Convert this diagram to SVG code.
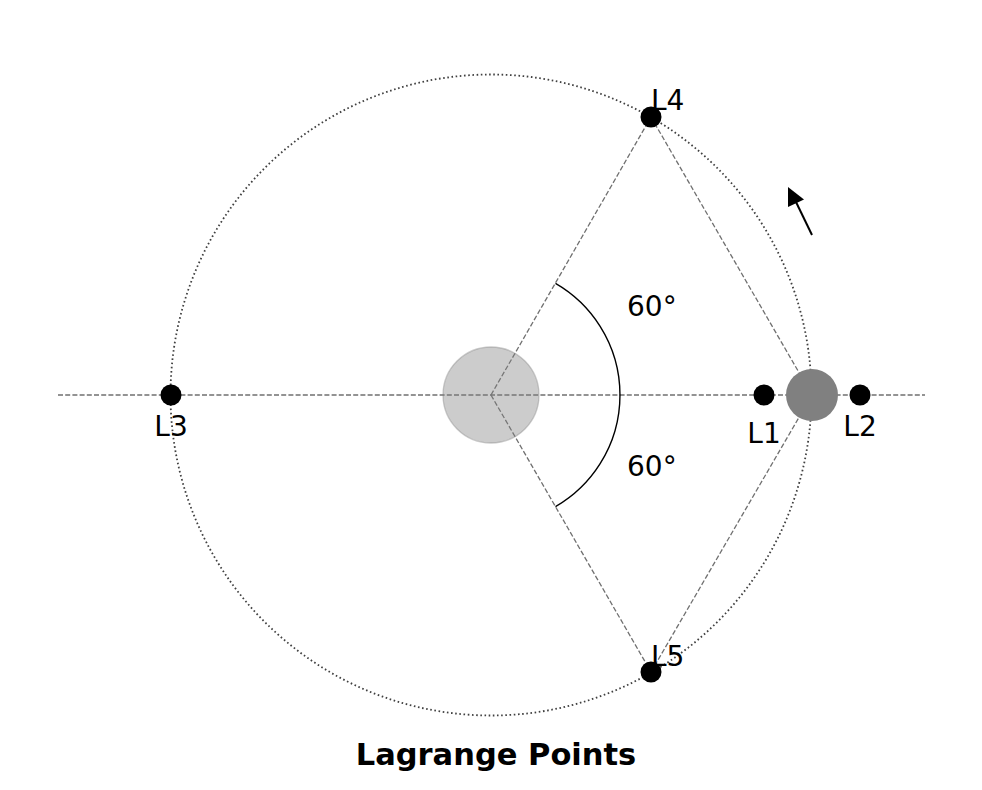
<svg xmlns="http://www.w3.org/2000/svg" width="982" height="790" viewBox="0 0 982 790">
<defs>
<style>
.lbl{font-family:"DejaVu Sans",sans-serif;font-size:28px;fill:#000}
.dash{stroke:#707070;stroke-width:1.3;stroke-dasharray:5,2.2;fill:none}
.pt{fill:#000}
</style>
</defs>
<rect width="982" height="790" fill="#fff"/>
<g id="connectors">
<circle cx="491" cy="395" r="320.5" fill="none" stroke="#404040" stroke-width="1.8" stroke-dasharray="1.6,2.6"/>
<line class="dash" x1="58" y1="395" x2="925" y2="395"/>
<line class="dash" x1="491" y1="395" x2="651" y2="117"/>
<line class="dash" x1="491" y1="395" x2="651" y2="672"/>
<line class="dash" x1="651" y1="117" x2="812" y2="395"/>
<line class="dash" x1="651" y1="672" x2="812" y2="395"/>
<path d="M555.5,283.3 A129,129 0 0 1 555.5,506.7" fill="none" stroke="#000" stroke-width="1.4"/>
<line x1="812" y1="235" x2="796" y2="202" stroke="#000" stroke-width="2"/>
<path d="M788,187 L804,199.5 L788,207 z" fill="#000"/>
</g>
<g id="sun"><circle cx="491" cy="395" r="48" fill="#808080" fill-opacity="0.4" stroke="#808080" stroke-opacity="0.4" stroke-width="1.3"/></g>
<g id="earth"><circle cx="812" cy="395" r="26" fill="#808080"/></g>
<g id="L1"><circle class="pt" cx="764" cy="395" r="10.5"/><text class="lbl" x="764" y="443" text-anchor="middle">L1</text></g>
<g id="L2"><circle class="pt" cx="860" cy="395" r="10.5"/><text class="lbl" x="860" y="436" text-anchor="middle">L2</text></g>
<g id="L3"><circle class="pt" cx="171" cy="395" r="10.5"/><text class="lbl" x="171" y="436" text-anchor="middle">L3</text></g>
<g id="L4"><circle class="pt" cx="651" cy="117" r="10.5"/><text class="lbl" x="651" y="110">L4</text></g>
<g id="L5"><circle class="pt" cx="651" cy="672" r="10.5"/><text class="lbl" x="651" y="666">L5</text></g>
<g id="angles">
<text class="lbl" x="627" y="316">60°</text>
<text class="lbl" x="627" y="476">60°</text>
</g>
<g id="title"><text x="496" y="765" text-anchor="middle" font-family="DejaVu Sans, sans-serif" font-weight="bold" font-size="30.5">Lagrange Points</text></g>
</svg>
